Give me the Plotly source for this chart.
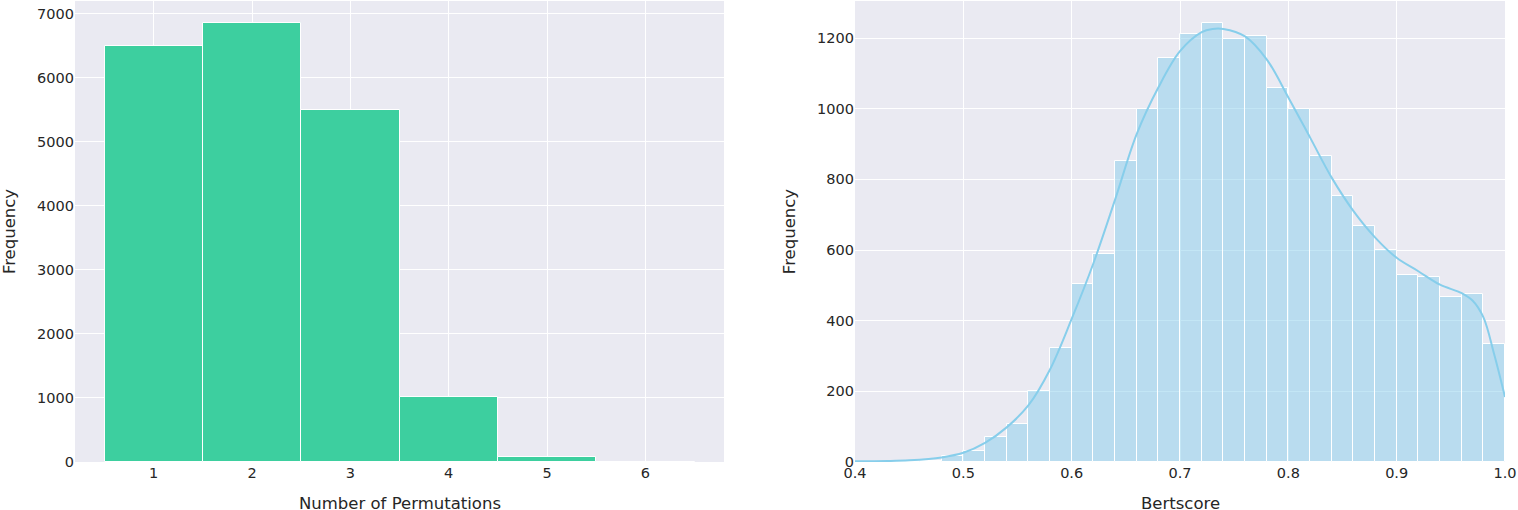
import plotly.graph_objects as go

# ---- data: left panel ----
perm_values = [1, 2, 3, 4, 5, 6]
perm_counts = [6490, 6850, 5490, 1015, 80, 2]

# ---- data: right panel (histogram, bin width 0.02 from 0.40 to 1.00) ----
bert_bin_start = 0.40
bert_bin_width = 0.02
bert_counts = [1, 1, 2, 4, 17, 30, 70, 107, 201, 324,
               503, 590, 852, 1000, 1143, 1213, 1242, 1198, 1205, 1060,
               998, 865, 752, 669, 600, 528, 525, 468, 477, 333]

# KDE curve points
kde_x = [0.40, 0.43, 0.45, 0.48, 0.50, 0.52, 0.54, 0.56, 0.58, 0.60, 0.62, 0.64,
         0.66, 0.68, 0.70, 0.72, 0.73, 0.74, 0.76, 0.78, 0.80, 0.82, 0.84, 0.86,
         0.88, 0.90, 0.92, 0.94, 0.96, 0.97, 0.98, 0.99, 1.00]
kde_y = [2, 3, 5, 13, 26, 54, 98, 160, 262, 405, 562, 742,
         928, 1060, 1163, 1217, 1226, 1226, 1205, 1140, 1032, 919, 805, 711,
         636, 578, 540, 502, 478, 457, 410, 305, 184]

bert_centers = [bert_bin_start + bert_bin_width * (i + 0.5) for i in range(len(bert_counts))]

BG = "#EAEAF2"
TXT = "#262626"
FONT = "DejaVu Sans"

fig = go.Figure()

fig.add_trace(go.Bar(
    x=perm_values, y=perm_counts, width=1,
    marker=dict(color="rgb(61,207,159)", line=dict(color="white", width=1)),
    xaxis="x", yaxis="y", showlegend=False,
))

fig.add_trace(go.Bar(
    x=bert_centers, y=bert_counts, width=bert_bin_width,
    marker=dict(color="rgba(135,206,235,0.5)", line=dict(color="white", width=1)),
    xaxis="x2", yaxis="y2", showlegend=False,
))

fig.add_trace(go.Scatter(
    x=kde_x, y=kde_y, mode="lines", line=dict(color="skyblue", width=2, shape="spline", smoothing=1),
    xaxis="x2", yaxis="y2", showlegend=False,
))

W, H = 1518, 510
ml, mr, mt, mb = 75, 13, 1, 48
pw = W - ml - mr
ph = H - mt - mb
d1 = [0, (724 - ml) / pw]
d2 = [(855 - ml) / pw, 1]
title_y = -(504 - (H - mb)) / ph

axis_common = dict(
    showgrid=True, gridcolor="white", gridwidth=1, zeroline=False,
    showline=False, ticks="", tickfont=dict(size=14.5, color=TXT, family=FONT),
    automargin=False,
)

fig.update_layout(
    width=W, height=H,
    margin=dict(l=ml, r=mr, t=mt, b=mb, autoexpand=False),
    paper_bgcolor="white", plot_bgcolor=BG,
    font=dict(family=FONT, color=TXT),
    bargap=0,
    xaxis=dict(domain=d1, range=[0.2, 6.8], tickvals=perm_values, anchor="y", **axis_common),
    yaxis=dict(range=[0, 7200], dtick=1000,
               title=dict(text="Frequency", font=dict(size=16.5, color=TXT), standoff=32),
               anchor="x", **axis_common),
    xaxis2=dict(domain=d2, range=[0.4, 1.0], dtick=0.1, tickformat=".1f", anchor="y2", **axis_common),
    yaxis2=dict(range=[0, 1305], dtick=200,
                title=dict(text="Frequency", font=dict(size=16.5, color=TXT), standoff=17),
                anchor="x2", **axis_common),
    annotations=[
        dict(text="Number of Permutations", xref="paper", yref="paper",
             x=(d1[0] + d1[1]) / 2, y=title_y, xanchor="center", yanchor="middle",
             showarrow=False, font=dict(size=16.5, color=TXT, family=FONT)),
        dict(text="Bertscore", xref="paper", yref="paper",
             x=(d2[0] + d2[1]) / 2, y=title_y, xanchor="center", yanchor="middle",
             showarrow=False, font=dict(size=16.5, color=TXT, family=FONT)),
    ],
)

fig.write_html("out.html", config={"displayModeBar": False},
               post_script="document.body.style.margin='0';document.body.style.overflow='hidden';")
